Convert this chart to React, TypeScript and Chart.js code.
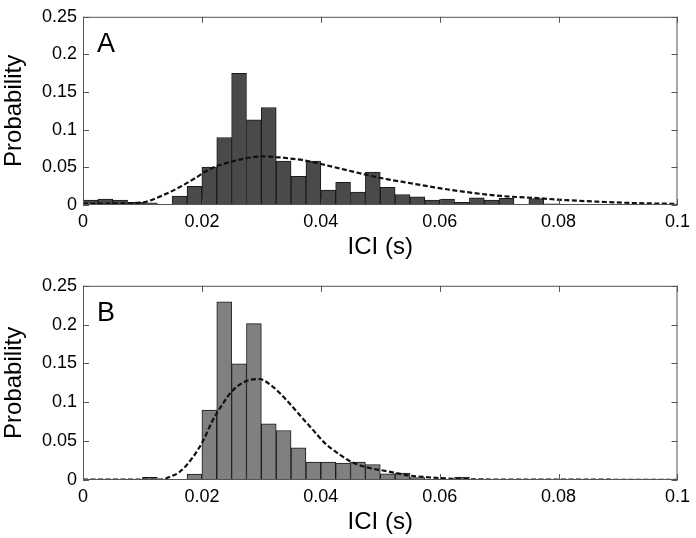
import React, { useEffect, useRef } from 'react';
import { Chart, registerables } from 'chart.js';
Chart.register(...registerables);

// Histogram bins: 0 .. 0.1 s in steps of 0.0025 s
const binStart = 0;
const binWidth = 0.0025;

const probA = [
  0.0064, 0.0077, 0.0064, 0.0034, 0.003, 0, 0.012, 0.0248, 0.0504, 0.0897,
  0.175, 0.113, 0.1295, 0.0585, 0.038, 0.0585, 0.0197, 0.03, 0.017, 0.0436,
  0.0235, 0.014, 0.0107, 0.0064, 0.0077, 0.0034, 0.0094, 0.0064, 0.009, 0,
  0.0085, 0.0017, 0.001, 0.001, 0.0005, 0.0005, 0.001, 0.0005, 0, 0,
];

const probB = [
  0, 0, 0, 0, 0.0034, 0, 0, 0.0077, 0.09, 0.2295,
  0.1496, 0.2013, 0.0722, 0.0637, 0.0415, 0.0231, 0.0231, 0.0218, 0.0231, 0.02,
  0.0081, 0.009, 0.003, 0.0013, 0.001, 0.0038, 0.0005, 0.0005, 0.0003, 0,
  0.0008, 0.0008, 0.001, 0.0008, 0.0005, 0, 0, 0, 0, 0,
];

const fitAx = [0, 0.005, 0.0079, 0.0104, 0.0134, 0.0162, 0.019, 0.0207, 0.0224, 0.0246, 0.0274, 0.0302, 0.0324, 0.0346, 0.0374, 0.0419, 0.0474, 0.0513, 0.0536, 0.0591, 0.0647, 0.0703, 0.0759, 0.0814, 0.087, 0.0926, 0.1];
const fitAy = [0.002, 0.002, 0.0025, 0.004, 0.0128, 0.0235, 0.0363, 0.0449, 0.0513, 0.0568, 0.062, 0.0645, 0.0637, 0.062, 0.059, 0.051, 0.0406, 0.034, 0.031, 0.0235, 0.017, 0.012, 0.0094, 0.0064, 0.0043, 0.0026, 0.0015];

const fitBx = [0, 0.012, 0.0135, 0.01455, 0.0162, 0.01845, 0.0201, 0.0218, 0.0235, 0.02514, 0.02737, 0.0296, 0.0318, 0.0341, 0.0363, 0.0385, 0.0408, 0.043, 0.0452, 0.0474, 0.0513, 0.0547, 0.059, 0.0647, 0.075, 0.1];
const fitBy = [0.0005, 0.0005, 0.001, 0.004, 0.01, 0.029, 0.049, 0.0765, 0.098, 0.115, 0.127, 0.13, 0.121, 0.104, 0.085, 0.066, 0.0466, 0.0338, 0.023, 0.017, 0.011, 0.006, 0.003, 0.001, 0.0005, 0.0003];

const xTicks = [0, 0.02, 0.04, 0.06, 0.08, 0.1];
const xTickLabels = ['0', '0.02', '0.04', '0.06', '0.08', '0.1'];
const yTicks = [0, 0.05, 0.1, 0.15, 0.2, 0.25];
const yTickLabels = ['0', '0.05', '0.1', '0.15', '0.2', '0.25'];
const panelLabels = ['A', 'B'];
const xTitle = 'ICI (s)';
const yTitle = 'Probability';

const FONT = '"Liberation Sans", Arial, Helvetica, sans-serif';

const framePlugin = {
  id: 'frame',
  afterDatasetsDraw(chart: any, _args: any, opts: any) {
    const { ctx, chartArea: a, scales } = chart;
    ctx.save();
    ctx.strokeStyle = '#555';
    ctx.lineWidth = 1;
    ctx.setLineDash([]);
    ctx.strokeRect(a.left + 0.5, a.top + 0.5, a.right - a.left - 1, a.bottom - a.top - 1);
    ctx.beginPath();
    xTicks.forEach((v) => {
      const px = Math.round(scales.x.getPixelForValue(v)) + 0.5;
      ctx.moveTo(px, a.bottom);
      ctx.lineTo(px, a.bottom - 6);
      ctx.moveTo(px, a.top);
      ctx.lineTo(px, a.top + 6);
    });
    yTicks.forEach((v) => {
      const py = Math.round(scales.y.getPixelForValue(v)) + 0.5;
      ctx.moveTo(a.left, py);
      ctx.lineTo(a.left + 6, py);
      ctx.moveTo(a.right, py);
      ctx.lineTo(a.right - 6, py);
    });
    ctx.stroke();
    ctx.fillStyle = '#000';
    ctx.font = `27px ${FONT}`;
    ctx.textBaseline = 'alphabetic';
    ctx.textAlign = 'left';
    ctx.fillText(opts.label, a.left + 14, a.top + 35);
    ctx.restore();
  },
};

function labelFor(ticks: number[], labels: string[], v: number) {
  const i = ticks.findIndex((t) => Math.abs(t - v) < 1e-9);
  return i >= 0 ? labels[i] : '';
}

type PanelProps = {
  top: number;
  probs: number[];
  fx: number[];
  fy: number[];
  fill: string;
  label: string;
  padTop: number;
  xHeight: number;
  titlePad: number;
};

function Panel({ top, probs, fx, fy, fill, label, padTop, xHeight, titlePad }: PanelProps) {
  const ref = useRef<HTMLCanvasElement | null>(null);
  useEffect(() => {
    if (!ref.current) return;
    const barData = probs.map((p, i) => ({ x: binStart + binWidth * (i + 0.5), y: p }));
    const lineData = fx.map((x, i) => ({ x, y: fy[i] }));
    const chart = new Chart(ref.current, {
      type: 'bar',
      data: {
        datasets: [
          {
            type: 'line',
            data: lineData,
            borderColor: '#111',
            borderWidth: 2.2,
            borderDash: [5, 2.5],
            pointRadius: 0,
            cubicInterpolationMode: 'monotone',
            fill: false,
            order: 0,
          } as any,
          {
            type: 'bar',
            data: barData,
            backgroundColor: fill,
            borderColor: '#1a1a1a',
            borderWidth: 1,
            borderSkipped: false,
            barPercentage: 1,
            categoryPercentage: 1,
            order: 1,
          } as any,
        ],
      },
      options: {
        animation: false,
        responsive: false,
        devicePixelRatio: 1,
        layout: { padding: { top: padTop, right: 15, left: 0, bottom: 0 } },
        plugins: {
          legend: { display: false },
          tooltip: { enabled: false },
          frame: { label },
        } as any,
        scales: {
          x: {
            type: 'linear',
            min: 0,
            max: 0.1,
            offset: false,
            grid: { display: false, drawTicks: false, offset: false },
            border: { display: false },
            afterBuildTicks: (s: any) => {
              s.ticks = xTicks.map((v) => ({ value: v }));
            },
            afterFit: (s: any) => {
              s.height = xHeight;
            },
            ticks: {
              autoSkip: false,
              maxRotation: 0,
              padding: 6,
              color: '#000',
              font: { family: FONT, size: 18 },
              callback: (v: any) => labelFor(xTicks, xTickLabels, Number(v)),
            },
            title: {
              display: true,
              text: xTitle,
              color: '#000',
              font: { family: FONT, size: 24 },
              padding: { top: 0, bottom: titlePad },
            },
          },
          y: {
            type: 'linear',
            min: 0,
            max: 0.25,
            grid: { display: false, drawTicks: false },
            border: { display: false },
            afterBuildTicks: (s: any) => {
              s.ticks = yTicks.map((v) => ({ value: v }));
            },
            afterFit: (s: any) => {
              s.width = 83;
            },
            ticks: {
              autoSkip: false,
              padding: 6,
              color: '#000',
              font: { family: FONT, size: 18 },
              callback: (v: any) => labelFor(yTicks, yTickLabels, Number(v)),
            },
            title: {
              display: true,
              text: yTitle,
              color: '#000',
              font: { family: FONT, size: 24 },
              padding: { top: 0, bottom: 0 },
            },
          },
        },
      } as any,
      plugins: [framePlugin],
    });
    return () => chart.destroy();
  }, []);
  return (
    <canvas
      ref={ref}
      width={696}
      height={269}
      style={{ position: 'absolute', left: 0, top, width: 696, height: 269 }}
    />
  );
}

export default function App() {
  return (
    <div style={{ position: 'absolute', left: 0, top: 0, width: 696, height: 538, background: '#fff' }}>
      <Panel top={0} probs={probA} fx={fitAx} fy={fitAy} fill="#4a4a4a" label={panelLabels[0]} padTop={10} xHeight={64} titlePad={7.6} />
      <Panel top={269} probs={probB} fx={fitBx} fy={fitBy} fill="#808080" label={panelLabels[1]} padTop={16} xHeight={58} titlePad={1.6} />
    </div>
  );
}
